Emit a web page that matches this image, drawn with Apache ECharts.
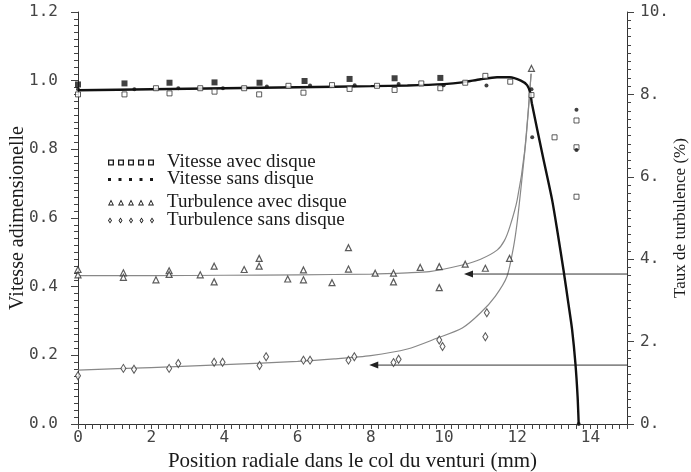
<!DOCTYPE html>
<html><head><meta charset="utf-8">
<script src="https://cdn.jsdelivr.net/npm/echarts@6/dist/echarts.min.js"></script>
<style>html,body{margin:0;padding:0;background:#fff}#c{width:691px;height:472px}</style>
</head><body><div id="c"></div>
<script>
// ---- tick labels ----
const xTickLabels = ['0','2','4','6','8','10','12','14'];
const yLeftTickLabels = ['0.0','0.2','0.4','0.6','0.8','1.0','1.2'];
const yRightTickLabels = ['0.','2.','4.','6.','8.','10.'];

// ---- series names ----
const nameVA = 'Vitesse avec disque';
const nameVS = 'Vitesse sans disque';
const nameTA = 'Turbulence avec disque';
const nameTS = 'Turbulence sans disque';

// ---- measured points: [position (mm), vitesse adimensionnelle] ----
const vitesseAvec = [[0,0.960],[1.27,0.960],[2.13,0.978],[2.50,0.963],[3.34,0.978],[3.73,0.968],[4.54,0.978],[4.95,0.960],[5.75,0.985],[6.16,0.965],[6.94,0.987],[7.42,0.976],[8.17,0.985],[8.65,0.973],[9.38,0.992],[9.90,0.978],[10.58,0.994],[11.13,1.014],[11.81,0.997],[12.39,0.958],[13.02,0.835],[13.62,0.884],[13.62,0.806],[13.62,0.662]];
const vitesseSans = [[0,0.975],[1.54,0.975],[2.74,0.978],[3.96,0.978],[5.16,0.983],[6.34,0.986],[7.56,0.987],[8.76,0.990],[9.99,0.987],[11.16,0.986],[12.39,0.975],[12.41,0.835],[13.62,0.915],[13.62,0.798],[13.68,0]];
const vitesseSansSuperpose = [[0,0.989],[1.27,0.992],[2.50,0.994],[3.73,0.995],[4.96,0.994],[6.19,0.999],[7.42,1.005],[8.65,1.007],[9.90,1.008]];

// ---- measured points: [position (mm), taux de turbulence (%)] ----
const turbAvec = [[0,3.75],[0,3.62],[1.24,3.67],[1.24,3.56],[2.13,3.50],[2.49,3.72],[2.49,3.63],[3.34,3.62],[3.72,3.83],[3.72,3.45],[4.54,3.75],[4.95,4.02],[4.95,3.83],[5.73,3.52],[6.16,3.74],[6.16,3.50],[6.94,3.43],[7.39,4.28],[7.39,3.76],[8.12,3.66],[8.62,3.66],[8.62,3.45],[9.35,3.80],[9.87,3.82],[9.87,3.31],[10.58,3.88],[11.13,3.78],[11.79,4.02],[12.39,8.63]];
const turbSans = [[0,1.17],[1.24,1.35],[1.53,1.33],[2.49,1.35],[2.74,1.47],[3.72,1.50],[3.95,1.50],[4.96,1.42],[5.14,1.63],[6.16,1.55],[6.34,1.55],[7.39,1.55],[7.55,1.63],[8.62,1.49],[8.76,1.57],[9.87,2.04],[9.96,1.88],[11.13,2.12],[11.17,2.70]];

// ---- fitted curves ----
const courbeVitesse = [[0,0.972],[2,0.975],[4,0.978],[6,0.981],[8,0.984],[9,0.986],[10,0.990],[10.5,0.995],[11,1.004],[11.45,1.010],[11.8,1.010],[12.1,1.000],[12.27,0.987],[12.36,0.963],[12.4,0.934],[12.7,0.780],[12.95,0.655],[13.1,0.560],[13.27,0.445],[13.4,0.350],[13.5,0.275],[13.59,0.177],[13.65,0.080],[13.68,0]];
const courbeTurbAvec = [[0,3.60],[2,3.60],[4,3.61],[6,3.62],[8,3.64],[9,3.67],[9.6,3.70],[10.5,3.86],[11.0,4.00],[11.45,4.22],[11.65,4.45],[11.8,4.79],[12.0,5.44],[12.2,6.60],[12.38,8.50]];
const courbeTurbSans = [[0,1.31],[2,1.37],[4,1.44],[6,1.52],[7,1.58],[8,1.66],[9,1.82],[9.8,2.08],[10.5,2.33],[11.0,2.70],[11.4,3.10],[11.72,3.58],[11.9,4.30],[12.0,4.90],[12.1,5.70],[12.25,7.00],[12.38,8.50]];

// ---- arrows (right axis): level (%) and tip position (mm) ----
const arrowLevels = [3.64, 1.43];
const arrowTips = [10.67, 8.08];
const arrowStart = 15;

// legend icon paths
function rep(n, step, f){ let s=''; for(let i=0;i<n;i++) s+=f(i*step); return s; }
const iconSquares = 'path://' + rep(5,10,x=>`M${x} 0h6v6h-${6}Z M${x+1.3} 1.3v3.4h3.4v-3.4Z `) + 'M54 3';
const iconDots = 'path://' + rep(5,10.5,x=>`M${x} 0h3v3h-3Z `) + 'M54 1.5';
const iconTri = 'path://' + rep(5,10,x=>`M${x} 6L${x+3} 0L${x+6} 6Z M${x+1.4} 5.1L${x+4.6} 5.1L${x+3} 2Z `) + 'M54 3';
const iconDia = 'path://' + rep(5,10.5,x=>`M${x+2} 0L${x+4} 3L${x+2} 6L${x} 3Z M${x+2} 1.6L${x+1} 3L${x+2} 4.4L${x+3} 3Z `) + 'M54 3';

const serif = 'Liberation Serif';
const mono = 'DejaVu Sans Mono';
const ink = '#1a1a1a';

function near(v, t){ return Math.abs(v - t) < 1e-6; }

function mkLegend(name, icon, top, h){
  return {
    top: top, left: 108, orient: 'vertical', selectedMode: false,
    itemWidth: 54, itemHeight: h, padding: 0,
    data: [{name: name, icon: icon}],
    itemStyle: {color: ink, borderWidth: 0, opacity: 1},
    textStyle: {fontFamily: serif, fontSize: 19, color: ink}
  };
}

const arrowSeries = arrowLevels.map((lv, i) => ({
  name: 'Flèche ' + (i+1), type: 'line', yAxisIndex: 1, silent: true, z: 3,
  showSymbol: true,
  data: [
    {value: [arrowStart, lv], symbol: 'none'},
    {value: [arrowTips[i], lv], symbol: 'triangle', symbolRotate: 90, symbolSize: [7, 9], symbolOffset: [0, 0]}
  ],
  lineStyle: {color: '#333', width: 1},
  itemStyle: {color: '#222'}
}));

const chart = echarts.init(document.getElementById('c'), null, {renderer: 'canvas'});
chart.setOption({
  backgroundColor: '#fff',
  animation: false,
  legend: [
    mkLegend(nameVA, iconSquares, 153, 6),
    mkLegend(nameVS, iconDots, 170, 3),
    mkLegend(nameTA, iconTri, 193, 6),
    mkLegend(nameTS, iconDia, 211, 6)
  ],
  grid: {left: 78, right: 64, top: 12, bottom: 48, containLabel: false, outerBoundsMode: 'none'},
  xAxis: {
    type: 'value', min: 0, max: 15, interval: 0.2,
    name: 'Position radiale dans le col du venturi (mm)', nameLocation: 'middle', nameGap: 27, nameMoveOverlap: false,
    nameTextStyle: {fontFamily: serif, fontSize: 21, color: ink},
    axisLine: {show: true, lineStyle: {color: '#333', width: 1}},
    axisTick: {show: true, length: 5, inside: false, lineStyle: {color: '#444'}},
    splitLine: {show: false},
    axisLabel: {
      margin: 6, fontFamily: mono, fontSize: 16, color: '#444',
      formatter: v => { for (let k=0;k<xTickLabels.length;k++){ if (near(v, k*2)) return xTickLabels[k]; } return ''; }
    }
  },
  yAxis: [
    {
      type: 'value', min: 0, max: 1.2, interval: 0.2, position: 'left',
      name: 'Vitesse adimensionelle', nameLocation: 'middle', nameRotate: 90, nameGap: 50, nameMoveOverlap: false,
      nameTextStyle: {fontFamily: serif, fontSize: 20, color: ink},
      axisLine: {show: true, lineStyle: {color: '#333', width: 1}},
      axisTick: {show: true, length: 7, lineStyle: {color: '#444'}},
      minorTick: {show: true, splitNumber: 10, length: 4, lineStyle: {color: '#444'}},
      splitLine: {show: false},
      axisLabel: {
        margin: 20, fontFamily: mono, fontSize: 16, color: '#444',
        formatter: v => { for (let k=0;k<yLeftTickLabels.length;k++){ if (near(v, k*0.2)) return yLeftTickLabels[k]; } return ''; }
      }
    },
    {
      type: 'value', min: 0, max: 10, interval: 2, position: 'right',
      name: 'Taux de turbulence (%)', nameLocation: 'middle', nameRotate: 90, nameGap: 45, nameMoveOverlap: false,
      nameTextStyle: {fontFamily: serif, fontSize: 17, color: ink},
      axisLine: {show: true, lineStyle: {color: '#333', width: 1}},
      axisTick: {show: true, length: 7, lineStyle: {color: '#444'}},
      minorTick: {show: true, splitNumber: 10, length: 4, lineStyle: {color: '#444'}},
      splitLine: {show: false},
      axisLabel: {
        margin: 13, fontFamily: mono, fontSize: 16, color: '#444',
        formatter: v => { for (let k=0;k<yRightTickLabels.length;k++){ if (near(v, k*2)) return yRightTickLabels[k]; } return ''; }
      }
    }
  ],
  series: [
    {name: 'Ajustement vitesse', type: 'line', yAxisIndex: 0, data: courbeVitesse, showSymbol: false, smooth: 0.25, z: 4, silent: true,
     lineStyle: {color: '#111', width: 2.4}, itemStyle: {color: '#111'}},
    {name: 'Ajustement turbulence avec disque', type: 'line', yAxisIndex: 1, data: courbeTurbAvec, showSymbol: false, smooth: 0.25, z: 2, silent: true,
     lineStyle: {color: '#888', width: 1.2}, itemStyle: {color: '#888'}},
    {name: 'Ajustement turbulence sans disque', type: 'line', yAxisIndex: 1, data: courbeTurbSans, showSymbol: false, smooth: 0.25, z: 2, silent: true,
     lineStyle: {color: '#888', width: 1.2}, itemStyle: {color: '#888'}},
    ...arrowSeries,
    {name: nameVA, type: 'scatter', yAxisIndex: 0, data: vitesseAvec, symbol: 'rect', symbolSize: 5, z: 6,
     itemStyle: {color: '#fff', borderColor: '#333', borderWidth: 1}},
    {name: nameVS, type: 'scatter', yAxisIndex: 0, data: vitesseSans, symbol: 'circle', symbolSize: 4, z: 7,
     itemStyle: {color: '#111'}},
    {name: nameVS, type: 'scatter', yAxisIndex: 0, data: vitesseSansSuperpose, symbol: 'rect', symbolSize: 6, z: 7,
     itemStyle: {color: '#111'}},
    {name: nameTA, type: 'scatter', yAxisIndex: 1, data: turbAvec, symbol: 'triangle', symbolSize: 6, z: 6,
     itemStyle: {color: '#fff', borderColor: '#333', borderWidth: 1.2}},
    {name: nameTS, type: 'scatter', yAxisIndex: 1, data: turbSans, symbol: 'diamond', symbolSize: [5, 8], z: 6,
     itemStyle: {color: '#fff', borderColor: '#333', borderWidth: 1.1}}
  ]
});
</script>
</body></html>
